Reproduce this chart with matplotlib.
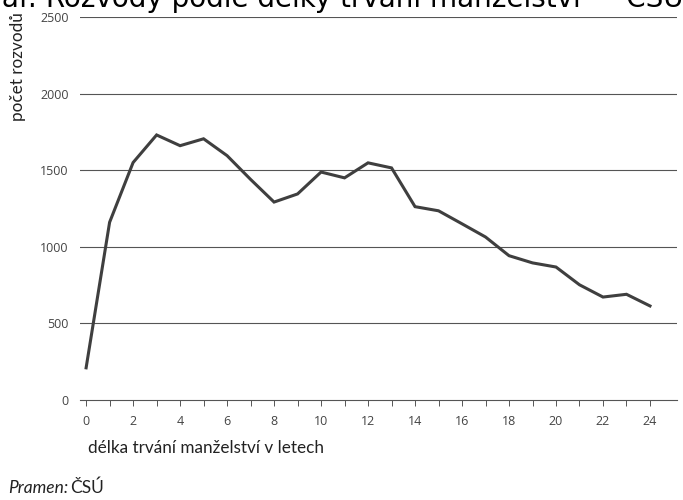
import matplotlib.pyplot as plt

# divorces by marriage duration (years)
years = list(range(0, 25))
divorces = [210, 1160, 1550, 1730, 1660, 1705, 1595, 1440, 1292, 1345,
            1488, 1450, 1548, 1515, 1262, 1235, 1150, 1064, 942, 895,
            868, 752, 672, 690, 614]
yticks = [0, 500, 1000, 1500, 2000, 2500]

fig = plt.figure(figsize=(6.83, 5), dpi=100)
ax = fig.add_axes([80 / 683, 0.2, 597 / 683, 383 / 500])

for v in yticks[1:]:
    ax.axhline(v, color='#555555', lw=0.8, zorder=1)

ax.plot(years, divorces, color='#3f3f3f', lw=2.2, solid_joinstyle='miter', zorder=3)

ax.set_xlim(-0.26, 25.15)
ax.set_ylim(0, 2500)
for s in ['top', 'right', 'left']:
    ax.spines[s].set_visible(False)
ax.spines['bottom'].set_color('#555555')
ax.spines['bottom'].set_linewidth(0.8)

ax.set_xticks(years)
ax.set_xticklabels([str(y) if y % 2 == 0 else '' for y in years])
ax.set_yticks(yticks)
ax.tick_params(axis='x', length=4, width=0.7, color='#555555', pad=7,
               labelsize=9, labelcolor='#444444')
ax.tick_params(axis='y', length=0, pad=8, labelsize=9, labelcolor='#444444')
for lab in ax.get_xticklabels() + ax.get_yticklabels():
    lab.set_family('Open Sans')

# title is cut off at the top edge, as in the scanned page
fig.text(-31 / 683, 1 - 7 / 500, 'Graf: Rozvody podle délky trvání manželství — ČSÚ',
         fontsize=20, family='DejaVu Sans', va='baseline', ha='left', color='black')
fig.text(18 / 683, 1 - 12 / 500, 'počet rozvodů', rotation=90, ha='center', va='top',
         fontsize=12.3, family='Lato', color='#222222')
fig.text(88 / 683, 1 - 448 / 500, 'délka trvání manželství v letech', ha='left',
         va='center', fontsize=12.3, family='Lato', color='#222222')
fig.text(8 / 683, 1 - 488 / 500, 'Pramen:', ha='left', va='center', fontsize=12.5,
         family='Lato', style='italic', color='#222222')
fig.text(70 / 683, 1 - 488 / 500, 'ČSÚ', ha='left', va='center', fontsize=12.5,
         family='Lato', color='#222222')

fig.savefig('out.png', dpi=100)
